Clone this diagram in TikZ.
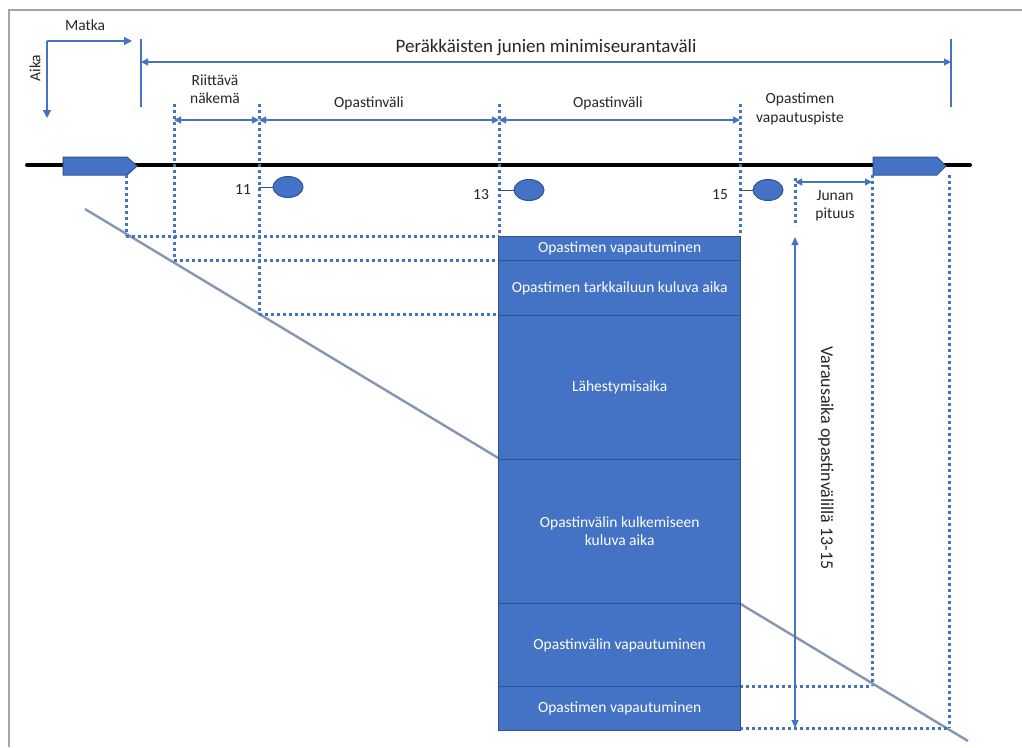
\documentclass[tikz,border=0pt]{standalone}
\usepackage{fontspec}
\setmainfont{Carlito}
\usetikzlibrary{arrows.meta,shapes.geometric}
\definecolor{bl}{HTML}{4472C4}
\definecolor{bld}{HTML}{2F528F}
\definecolor{gl}{HTML}{8497B0}
\definecolor{fr}{HTML}{A6A6A6}
\definecolor{tx}{HTML}{262626}
\begin{document}
\begin{tikzpicture}[x=1pt,y=-1pt,
  dim/.style={draw=bl,line width=1.1pt,{Triangle[length=7pt,width=7pt]}-{Triangle[length=7pt,width=7pt]}},
  onearrow/.style={draw=bl,line width=1.3pt,-{Triangle[length=8pt,width=8pt]}},
  bar/.style={draw=bl,line width=1.6pt},
  dots/.style={draw=bl,line width=3pt,dash pattern=on 3pt off 3pt},
  blk/.style={draw=bld,line width=1.3pt,fill=bl,text=white,minimum width=242pt,anchor=north west,align=center,inner sep=0pt,font=\fontsize{15.5}{18}\selectfont},
  lbl/.style={text=tx,align=center,font=\fontsize{15.5}{18.5}\selectfont,inner sep=0pt},
  sig/.style={ellipse,draw=bld,line width=1pt,fill=bl,minimum width=30pt,minimum height=21pt,inner sep=0pt},
  train/.style={draw=bld,line width=1pt,fill=bl}]
\useasboundingbox (0,0) rectangle (1022,747);
% frame
\draw[fr,line width=2.5pt] (9,747) -- (9,10) -- (1022,10);
% axes
\coordinate (o) at (47,41);
\coordinate (mx) at (132,41);
\coordinate (ay) at (47,118);
\draw[onearrow] (o) -- (mx);
\draw[onearrow] (o) -- (ay);
\node[lbl] (matka) at (85,25) {Matka};
\node[lbl,rotate=90] (aika) at (35,68) {Aika};
% top dimension
\coordinate (tl1) at (141,39); \coordinate (tl2) at (141,107);
\coordinate (tr1) at (951,39); \coordinate (tr2) at (951,107);
\draw[bar] (tl1) -- (tl2);
\draw[bar] (tr1) -- (tr2);
\coordinate (ta) at (141,62); \coordinate (tb) at (951,62);
\draw[dim] (ta) -- (tb);
\node[lbl,font=\fontsize{19}{22}\selectfont] (title) at (546,48) {Peräkkäisten junien minimiseurantaväli};
% diagonal
\coordinate (d1) at (85,209); \coordinate (d2) at (968,741);
\draw[gl,line width=2.4pt] (d1) -- (d2);
% track
\coordinate (k1) at (27,165); \coordinate (k2) at (970,165);
\draw[black,line width=4pt,line cap=round] (k1) -- (k2);
% trains
\draw[train] (63,157) -- (127,157) -- (137,166) -- (127,175) -- (63,175) -- cycle;
\draw[train] (873,157) -- (937,157) -- (946,166) -- (937,175) -- (873,175) -- cycle;
% dotted verticals
\draw[dots] (126,175) -- (126,236);
\draw[dots] (174,104) -- (174,260);
\draw[dots] (259,104) -- (259,314);
\draw[dots] (499,104) -- (499,236);
\draw[dots] (740,104) -- (740,236);
\draw[dots] (795,178) -- (795,226);
\draw[dots] (872,175) -- (872,686);
\draw[dots] (949,175) -- (949,728);
% dotted horizontals
\draw[dots] (126,236) -- (499,236);
\draw[dots] (174,260) -- (499,260);
\draw[dots] (259,314) -- (499,314);
\draw[dots] (740,686) -- (872,686);
\draw[dots] (740,728) -- (949,728);
% dimension arrows
\coordinate (a1) at (174,120); \coordinate (a2) at (259,120);
\coordinate (a3) at (499,120); \coordinate (a4) at (740,120);
\draw[dim] (a1) -- (a2);
\draw[dim] (a2) -- (a3);
\draw[dim] (a3) -- (a4);
\node[lbl] (rn) at (215,89) {Riittävä\\näkemä};
\node[lbl] (ov1) at (369,103) {Opastinväli};
\node[lbl] (ov2) at (608,103) {Opastinväli};
\node[lbl] (ovp) at (800,109) {Opastimen\\vapautuspiste};
\coordinate (j1) at (795,182); \coordinate (j2) at (872,182);
\draw[dim] (j1) -- (j2);
\node[lbl] (jp) at (835,206) {Junan\\pituus};
% signals
\node[sig] (s11) at (288,187) {};
\node[sig] (s13) at (529,190) {};
\node[sig] (s15) at (768,190) {};
\coordinate (p11) at (259,187); \coordinate (p13) at (499,190); \coordinate (p15) at (740,190);
\draw[bld,line width=1pt] (p11) -- (s11.west);
\draw[bld,line width=1pt] (p13) -- (s13.west);
\draw[bld,line width=1pt] (p15) -- (s15.west);
\node[lbl] (n11) at (243,190) {11};
\node[lbl] (n13) at (481,195) {13};
\node[lbl] (n15) at (720,195) {15};
% blocks
\node[blk,minimum height=24pt] (b1) at (498,236) {Opastimen vapautuminen};
\node[blk,minimum height=55pt] (b2) at (498,260) {Opastimen tarkkailuun kuluva aika};
\node[blk,minimum height=144pt] (b3) at (498,315) {Lähestymisaika};
\node[blk,minimum height=144pt] (b4) at (498,459) {Opastinvälin kulkemiseen\\kuluva aika};
\node[blk,minimum height=83pt] (b5) at (498,603) {Opastinvälin vapautuminen};
\node[blk,minimum height=44pt] (b6) at (498,686) {Opastimen vapautuminen};
% reservation time arrow
\coordinate (v1) at (795,728); \coordinate (v2) at (795,237);
\draw[draw=bl,line width=1.1pt,{Triangle[length=8pt,width=7pt]}-{Triangle[length=8pt,width=7pt]}] (v1) -- (v2);
\node[lbl,rotate=-90,font=\fontsize{18}{21}\selectfont] (vara) at (826,458) {Varausaika opastinvälillä 13-15};
\end{tikzpicture}
\end{document}
